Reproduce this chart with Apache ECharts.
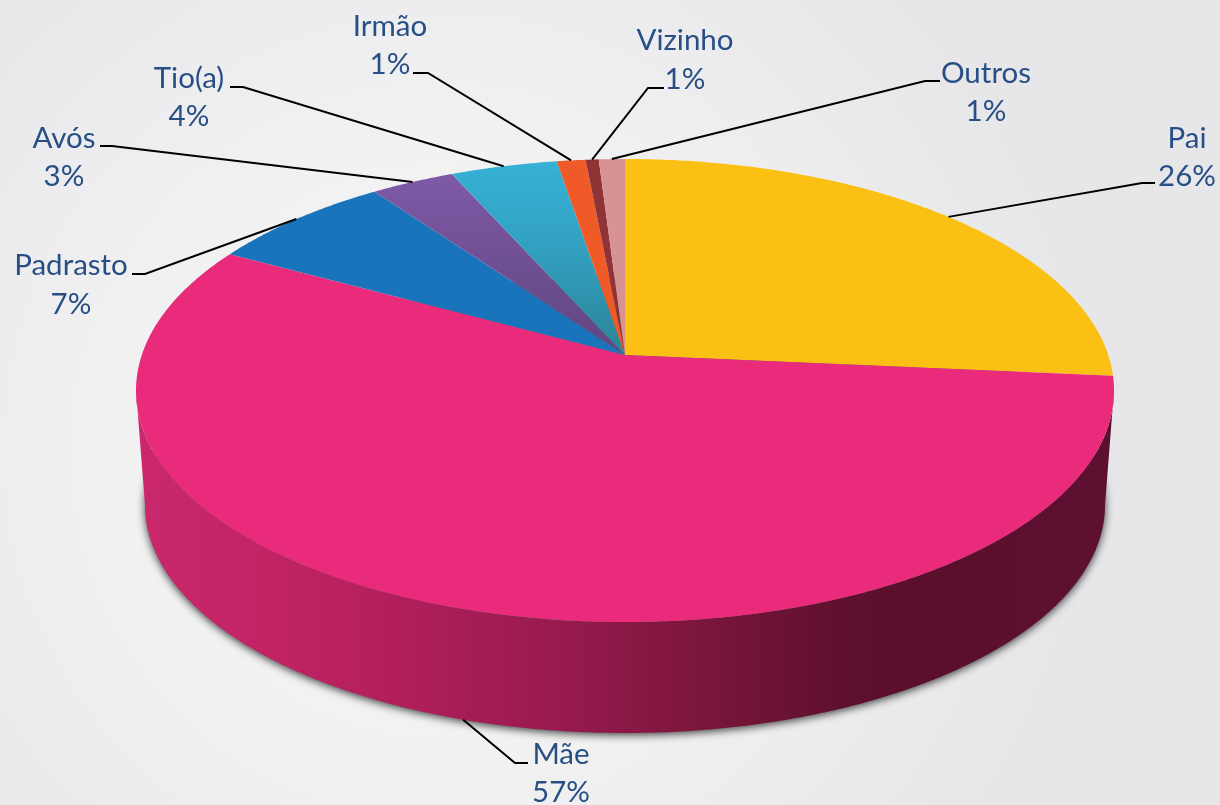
<!DOCTYPE html>
<html>
<head>
<meta charset="utf-8">
<style>html,body{margin:0;padding:0;width:1220px;height:805px;overflow:hidden}#c{width:1220px;height:805px}</style>
<script src="https://cdn.jsdelivr.net/npm/echarts@6/dist/echarts.min.js"></script>
</head>
<body>
<div id="c"></div>
<script>
// ---- data (clockwise from 12 o'clock) ----
const categories = ['Pai', 'Mãe', 'Padrasto', 'Avós', 'Tio(a)', 'Irmão', 'Vizinho', 'Outros'];
const shares = [26.45, 56.5, 7.15, 3.2, 4.1, 1.1, 0.5, 1.0];
const percentLabels = ['26%', '57%', '7%', '3%', '4%', '1%', '1%', '1%'];

// ---- styles ----
const sliceColors = ['#fac014', '#ea2a7a', '#1a74bb', null, null, '#f05a28', '#8f3336', '#d79393'];
const sliceGradients = {
  3: [[175, '#7f59a6'], [355, '#5f4680']],
  4: [[161, '#36b1d6'], [230, '#33a4c6'], [355, '#2c8498']]
};
const wallStops = [
  [0.0, '#cb286e'], [0.15, '#c02362'], [0.3, '#ad1e59'], [0.45, '#941a4c'],
  [0.6, '#771539'], [0.72, '#5f102e'], [0.8, '#5a0f2d'], [1, '#5e1030']
];
const textColor = '#274f86';
const fontSpec = '29.5px Lato';

// ---- projection of the tilted disc ----
const topFace = { cx: 625, cy: 390.5, rx: 489, ry: 231.5 };
const baseFace = { cx: 625, cy: 505, rx: 480, ry: 228 };
const persp = 0.1533;
function project(face, deg, r) {
  const a = deg * Math.PI / 180, rad = r === undefined ? 1 : r;
  const u = Math.sin(a) * rad, v = -Math.cos(a) * rad;
  const w = 1 - persp * v, q = 1 - persp * persp;
  return [face.cx + face.rx * Math.sqrt(q) * u / w,
          face.cy - persp * face.ry + face.ry * q * v / w];
}
const apex = project(topFace, 0, 0);
const total = shares.reduce((s, v) => s + v, 0);
const starts = [];
shares.reduce((acc, v, i) => { starts[i] = acc; return acc + v / total * 360; }, 0);
function arc(face, from, to) {
  const pts = [], n = Math.max(2, Math.ceil(Math.abs(to - from) * 2));
  for (let i = 0; i <= n; i++) pts.push(project(face, from + (to - from) * i / n));
  return pts;
}
const tangentAngle = Math.acos(-persp) * 180 / Math.PI;

// ---- label layout: text centre and leader elbows ----
const labelLayout = [
  { x: 1187, y: 138, dy: 38, elbow: [[1155, 183], [1142, 183]], onBase: false },
  { x: 561, y: 754, dy: 38, elbow: [[528, 763], [515, 763]], onBase: true },
  { x: 71, y: 265, dy: 39, elbow: [[132, 274], [145, 274]], onBase: false },
  { x: 64, y: 138, dy: 38, elbow: [[100, 146], [112, 146]], onBase: false },
  { x: 189, y: 78, dy: 38, elbow: [[230, 87], [243, 87]], onBase: false },
  { x: 390, y: 26, dy: 38, elbow: [[413, 73], [428, 73]], onBase: false },
  { x: 685, y: 40, dy: 39, elbow: [[664, 88], [648, 88]], onBase: false },
  { x: 986, y: 73, dy: 38, elbow: [[940, 81], [925, 81]], onBase: false }
];

function renderWall(params) {
  const i = params.dataIndex;
  const s = starts[i], e = s + shares[i] / total * 360;
  const from = Math.max(s, tangentAngle), to = Math.min(e, 360 - tangentAngle);
  if (to <= from) return { type: 'group', children: [] };
  const top = arc(topFace, from, to), base = arc(baseFace, to, from);
  return {
    type: 'group',
    children: [
      { type: 'polygon', shape: { points: arc(baseFace, 0, 359.5) },
        style: { fill: '#777', shadowBlur: 9, shadowColor: 'rgba(0,0,0,0.75)', shadowOffsetX: 0, shadowOffsetY: 2 } },
      { type: 'polygon', shape: { points: top.concat(base) },
        style: { fill: { type: 'linear', x: 136, y: 0, x2: 1114, y2: 0, global: true,
          colorStops: wallStops.map(p => ({ offset: p[0], color: p[1] })) } } }
    ]
  };
}
function renderTop(params) {
  const i = params.dataIndex;
  const s = starts[i], e = s + shares[i] / total * 360;
  let fill = sliceColors[i];
  if (sliceGradients[i]) {
    const g = sliceGradients[i], y0 = g[0][0], y1 = g[g.length - 1][0];
    fill = { type: 'linear', x: 0, y: y0, x2: 0, y2: y1, global: true,
      colorStops: g.map(p => ({ offset: (p[0] - y0) / (y1 - y0), color: p[1] })) };
  }
  return { type: 'polygon', shape: { points: [apex].concat(arc(topFace, s, e)) }, style: { fill } };
}
function renderLabel(params) {
  const i = params.dataIndex, l = labelLayout[i];
  const mid = starts[i] + shares[i] / total * 180;
  const anchor = project(l.onBase ? baseFace : topFace, mid);
  const txt = (t, y) => ({ type: 'text', x: l.x, y,
    style: { text: t, fill: textColor, font: fontSpec, align: 'center', verticalAlign: 'middle' } });
  return {
    type: 'group',
    children: [
      { type: 'polyline', shape: { points: l.elbow.concat([anchor]) },
        style: { stroke: '#000', lineWidth: 2, fill: null } },
      txt(categories[i], l.y),
      txt(percentLabels[i], l.y + l.dy)
    ]
  };
}

const rows = categories.map((name, i) => ({ name, value: [shares[i]] }));
const chart = echarts.init(document.getElementById('c'), null, { renderer: 'canvas' });
chart.setOption({
  animation: false,
  backgroundColor: {
    type: 'radial', x: 0.36, y: 0.56, r: 0.8,
    colorStops: [{ offset: 0, color: '#f7f7f8' }, { offset: 0.5, color: '#f1f1f2' }, { offset: 1, color: '#e7e7ea' }]
  },
  tooltip: { show: false },
  series: [
    { type: 'custom', name: 'Parede', coordinateSystem: 'none', renderItem: renderWall, data: rows, silent: true, z: 1 },
    { type: 'custom', name: 'Fatias', coordinateSystem: 'none', renderItem: renderTop, data: rows, silent: true, z: 2 },
    { type: 'custom', name: 'Rótulos', coordinateSystem: 'none', renderItem: renderLabel, data: rows, silent: true, z: 3 }
  ]
});
</script>
</body>
</html>
